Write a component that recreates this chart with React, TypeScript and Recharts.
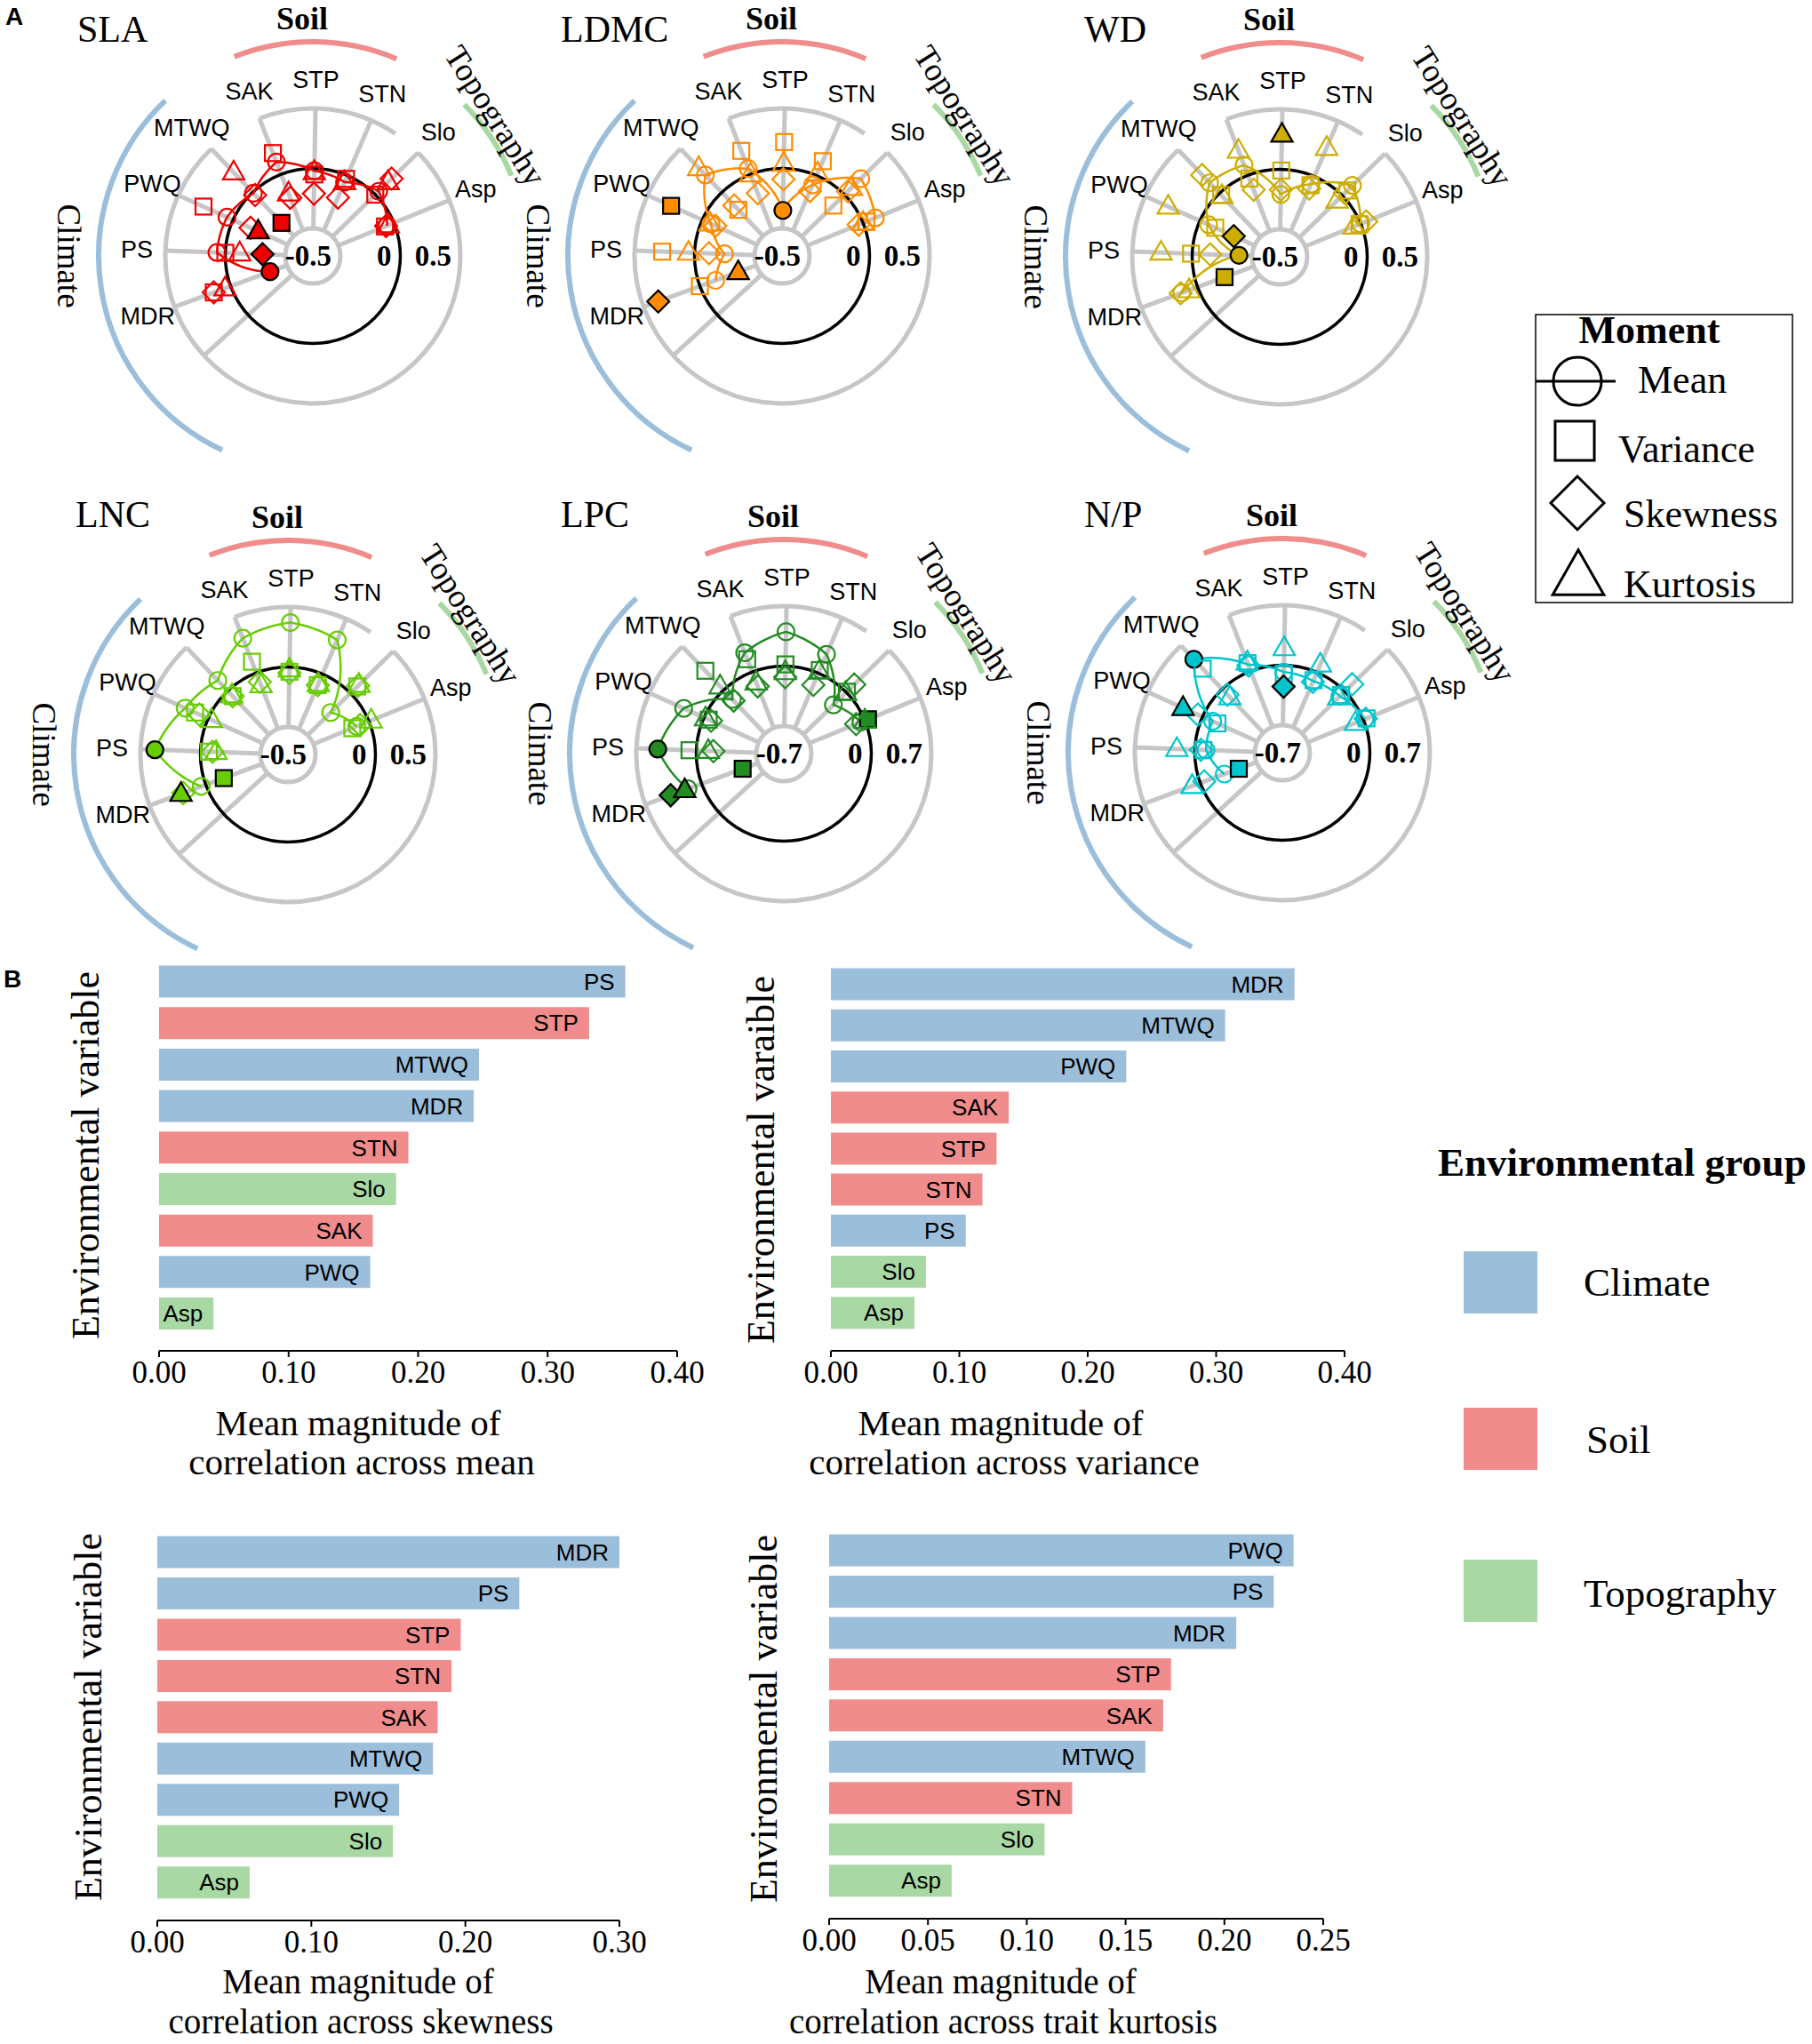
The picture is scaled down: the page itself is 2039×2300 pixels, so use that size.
import React from 'react'
import {
  RadarChart, Radar, PolarAngleAxis, PolarRadiusAxis,
  BarChart, Bar, XAxis, YAxis, Cell, LabelList,
} from 'recharts'

const SERIF = "'Liberation Serif', 'Times New Roman', Times, serif"
const SANS = "'Liberation Sans', Arial, Helvetica, sans-serif"

// environmental variables, in angular order (clockwise from lower left)
const VARS = ['MDR', 'PS', 'PWQ', 'MTWQ', 'SAK', 'STP', 'STN', 'Slo', 'Asp']
const CLIMATE = ['MDR', 'PS', 'PWQ', 'MTWQ']
const SOIL = ['SAK', 'STP', 'STN']

// correlations of each trait moment with the variables (MDR .. Asp)
const SLA_MEAN = [-0.35, 0.07, 0.055, -0.01, 0.11, -0.02, -0.06, 0.04, -0.06]
const SLA_VAR = [0.15, 0.0, 0.27, -0.35, 0.19, -0.05, -0.03, 0.0, -0.08]
const SLA_SKEW = [0.15, -0.31, -0.16, -0.03, -0.21, -0.21, -0.2, 0.19, -0.07]
const SLA_KURT = [0.05, -0.12, -0.23, 0.23, -0.17, -0.03, -0.06, 0.15, -0.05]
const SLA_SIG = ['MDR:mean', 'PS:skewness', 'PWQ:kurtosis', 'MTWQ:variance']

const LDMC_MEAN = [-0.14, -0.25, -0.08, 0.2, 0.05, -0.35, -0.085, 0.19, 0.11]
const LDMC_VAR = [0.0, 0.27, 0.285, -0.2, 0.21, 0.22, 0.13, -0.13, 0.03]
const LDMC_SKEW = [0.37, -0.12, -0.12, -0.15, -0.17, -0.09, -0.14, 0.04, -0.04]
const LDMC_KURT = [-0.34, 0.05, -0.07, 0.28, 0.0, 0.04, 0.02, 0.08, 0.0]
const LDMC_SIG = ['MDR:skewness', 'MDR:kurtosis', 'PWQ:variance', 'STP:mean']

const WD_MEAN = [0.14, -0.39, -0.08, 0.12, 0.09, -0.21, -0.07, 0.12, 0.0]
const WD_VAR = [-0.24, 0.01, -0.14, -0.02, -0.03, -0.01, -0.08, 0.06, -0.01]
const WD_SKEW = [0.15, -0.15, -0.31, 0.21, -0.13, -0.17, -0.11, 0.03, 0.05]
const WD_KURT = [0.075, 0.26, 0.29, -0.03, 0.22, 0.29, 0.26, -0.06, -0.06]
const WD_SIG = ['MDR:variance', 'PS:mean', 'PWQ:skewness', 'STP:kurtosis']

const LNC_MEAN = [0.04, 0.38, 0.21, 0.12, 0.31, 0.37, 0.31, -0.23, -0.11]
const LNC_VAR = [-0.16, -0.07, 0.12, -0.06, 0.1, -0.04, -0.1, 0.08, -0.15]
const LNC_SKEW = [0.2, -0.1, 0.08, -0.06, -0.08, -0.05, -0.1, 0.09, -0.08]
const LNC_KURT = [0.22, -0.13, -0.03, -0.05, -0.11, -0.02, -0.09, 0.1, 0.02]
const LNC_SIG = ['MDR:variance', 'MDR:kurtosis', 'PS:mean']

const LPC_MEAN = [0.17, 0.45, 0.26, -0.15, 0.24, 0.4, 0.24, -0.21, -0.05]
const LPC_VAR = [-0.51, 0.08, -0.06, 0.31, 0.16, 0.02, 0.04, 0.01, 0.04]
const LPC_SKEW = [0.385, -0.2, -0.09, -0.17, -0.18, -0.13, -0.15, 0.13, -0.11]
const LPC_KURT = [0.21, -0.14, -0.02, 0.06, -0.13, -0.07, 0.02, -0.01, 0.0]
const LPC_SIG = ['MDR:variance', 'MDR:skewness', 'MDR:kurtosis', 'PS:mean', 'Asp:variance']

const NP_MEAN = [-0.3, -0.13, -0.13, 0.48, 0.08, -0.08, -0.11, -0.08, 0.02]
const NP_VAR = [-0.48, -0.1, -0.19, 0.33, 0.1, -0.1, -0.1, -0.06, 0.04]
const NP_SKEW = [-0.05, -0.07, 0.06, -0.09, 0.07, -0.25, -0.12, 0.12, 0.03]
const NP_KURT = [0.1, 0.21, 0.25, -0.13, 0.11, 0.2, 0.1, -0.1, -0.1]
const NP_SIG = ['MDR:variance', 'PWQ:kurtosis', 'MTWQ:mean', 'STP:skewness']

// panel B: mean magnitude of correlation, sorted as drawn (top to bottom)
const MEAN_NAMES = ['PS', 'STP', 'MTWQ', 'MDR', 'STN', 'Slo', 'SAK', 'PWQ', 'Asp']
const MEAN_VALS = [0.36, 0.332, 0.247, 0.243, 0.1925, 0.183, 0.165, 0.163, 0.042]
const VAR_NAMES = ['MDR', 'MTWQ', 'PWQ', 'SAK', 'STP', 'STN', 'PS', 'Slo', 'Asp']
const VAR_VALS = [0.361, 0.307, 0.23, 0.1385, 0.129, 0.118, 0.105, 0.074, 0.065]
const SKEW_NAMES = ['MDR', 'PS', 'STP', 'STN', 'SAK', 'MTWQ', 'PWQ', 'Slo', 'Asp']
const SKEW_VALS = [0.3, 0.235, 0.197, 0.191, 0.182, 0.179, 0.157, 0.153, 0.06]
const KURT_NAMES = ['PWQ', 'PS', 'MDR', 'STP', 'SAK', 'MTWQ', 'STN', 'Slo', 'Asp']
const KURT_VALS = [0.235, 0.225, 0.206, 0.173, 0.169, 0.16, 0.123, 0.109, 0.062]

const TICKS_40 = [0, 0.1, 0.2, 0.3, 0.4]
const TICKS_30 = [0, 0.1, 0.2, 0.3]
const TICKS_25 = [0, 0.05, 0.1, 0.15, 0.2, 0.25]

const GROUP_FILL: Record<string, string> = { Climate: '#9BBEDB', Soil: '#F08C8C', Topography: '#A8D8A4' }
const groupOf = (v: string) => (CLIMATE.includes(v) ? 'Climate' : SOIL.includes(v) ? 'Soil' : 'Topography')

// polar geometry (px)
const SIZE = 640
const HALF = SIZE / 2
const INNER_R = 31
const OUTER_R = 166
const LABEL_R = 198
const START = 200.2
const STEP = 22.25
const END = START - 9 * STEP
const GRID = '#C6C6C6'
const RAD = Math.PI / 180

const MOMENTS = ['mean', 'variance', 'skewness', 'kurtosis'] as const
const SHAPE_OF: Record<string, string> = { mean: 'circle', variance: 'square', skewness: 'diamond', kurtosis: 'triangle' }

const PANELS = [
  { title: 'SLA', cx: 352, cy: 288, tx: 87, ty: 47, lim: 0.5, color: '#EE0000', m: [SLA_MEAN, SLA_VAR, SLA_SKEW, SLA_KURT], sig: SLA_SIG },
  { title: 'LDMC', cx: 880, cy: 288, tx: 631, ty: 47, lim: 0.5, color: '#FF8C00', m: [LDMC_MEAN, LDMC_VAR, LDMC_SKEW, LDMC_KURT], sig: LDMC_SIG },
  { title: 'WD', cx: 1440, cy: 289, tx: 1220, ty: 47, lim: 0.5, color: '#CDAD00', m: [WD_MEAN, WD_VAR, WD_SKEW, WD_KURT], sig: WD_SIG },
  { title: 'LNC', cx: 324, cy: 849, tx: 85, ty: 593, lim: 0.5, color: '#66CD00', m: [LNC_MEAN, LNC_VAR, LNC_SKEW, LNC_KURT], sig: LNC_SIG },
  { title: 'LPC', cx: 882, cy: 848, tx: 631, ty: 593, lim: 0.7, color: '#228B22', m: [LPC_MEAN, LPC_VAR, LPC_SKEW, LPC_KURT], sig: LPC_SIG },
  { title: 'N/P', cx: 1443, cy: 847, tx: 1220, ty: 593, lim: 0.7, color: '#00C5CD', m: [NP_MEAN, NP_VAR, NP_SKEW, NP_KURT], sig: NP_SIG },
]

const BARS = [
  { names: MEAN_NAMES, vals: MEAN_VALS, max: 0.4, ticks: TICKS_40, left: 120, top: 1060, w: 690, h: 520, m: { top: 21.4, right: 48, bottom: 0, left: 59 }, pad: 18.4 },
  { names: VAR_NAMES, vals: VAR_VALS, max: 0.4, ticks: TICKS_40, left: 875, top: 1060, w: 690, h: 520, m: { top: 24.5, right: 52, bottom: 0, left: 60 }, pad: 19.7 },
  { names: SKEW_NAMES, vals: SKEW_VALS, max: 0.3, ticks: TICKS_30, left: 120, top: 1700, w: 630, h: 521, m: { top: 23.4, right: 53, bottom: 0, left: 57 }, pad: 19.5 },
  { names: KURT_NAMES, vals: KURT_VALS, max: 0.25, ticks: TICKS_25, left: 875, top: 1700, w: 670, h: 519, m: { top: 21.4, right: 56, bottom: 0, left: 58 }, pad: 19.5 },
]

const polar = (cx: number, cy: number, r: number, a: number) => ({ x: cx + r * Math.cos(a * RAD), y: cy - r * Math.sin(a * RAD) })
const arc = (cx: number, cy: number, r: number, a0: number, a1: number) => {
  const p0 = polar(cx, cy, r, a0)
  const p1 = polar(cx, cy, r, a1)
  return `M${p0.x},${p0.y} A${r},${r} 0 ${a1 - a0 > 180 ? 1 : 0} 0 ${p1.x},${p1.y}`
}

function Marker({ kind, x, y, color, sig, s = 1, sw = 2.2 }: any) {
  const stroke = sig ? '#000' : color
  const fill = sig ? color : 'none'
  const common = { stroke, fill, strokeWidth: sw }
  if (kind === 'circle') return <circle cx={x} cy={y} r={9.5 * s} {...common} />
  if (kind === 'square') return <rect x={x - 9 * s} y={y - 9 * s} width={18 * s} height={18 * s} {...common} />
  if (kind === 'diamond') {
    const h = 12.5 * s
    return <polygon points={`${x},${y - h} ${x + h},${y} ${x},${y + h} ${x - h},${y}`} {...common} />
  }
  const a = 12 * s
  return <polygon points={`${x},${y - 13 * s} ${x + a},${y + 8 * s} ${x - a},${y + 8 * s}`} {...common} />
}

function PanelDecor({ cx, cy, title, tx, ty }: any) {
  const spokes = []
  for (let i = -1; i < 9; i++) {
    const a = START - i * STEP
    const p0 = polar(cx, cy, INNER_R, a)
    const p1 = polar(cx, cy, OUTER_R, a)
    spokes.push(<line key={i} x1={p0.x} y1={p0.y} x2={p1.x} y2={p1.y} stroke={GRID} strokeWidth={5} />)
  }
  const topo = polar(cx, cy, 259, 37.5)
  return (
    <g>
      <text x={tx} y={ty} fontFamily={SERIF} fontSize={42} fill="#000">{title}</text>
      <path d={arc(cx, cy, 241, 133.5, 245)} stroke="#9BBEDB" strokeWidth={6} fill="none" />
      <path d={arc(cx, cy, 241, 67, 111.5)} stroke="#F08C8C" strokeWidth={6} fill="none" />
      <path d={arc(cx, cy, 241, 22, 45)} stroke="#A8D8A4" strokeWidth={6} fill="none" />
      <text x={cx - 12} y={cy - 267} textAnchor="middle" dominantBaseline="central" fontFamily={SERIF} fontWeight="bold" fontSize={36}>Soil</text>
      <text x={topo.x} y={topo.y} textAnchor="middle" dominantBaseline="central" fontFamily={SERIF} fontSize={37}
        transform={`rotate(57.5 ${topo.x} ${topo.y})`}>Topography</text>
      <text x={cx - 275} y={cy} textAnchor="middle" dominantBaseline="central" fontFamily={SERIF} fontSize={37}
        transform={`rotate(90 ${cx - 275} ${cy})`}>Climate</text>
      {spokes}
      <circle cx={cx} cy={cy} r={INNER_R} stroke={GRID} strokeWidth={5} fill="none" />
      <path d={arc(cx, cy, OUTER_R, 56, START - 4 * STEP)} stroke={GRID} strokeWidth={5} fill="none" />
      <path d={arc(cx, cy, OUTER_R, START - 3 * STEP, START - 7 * STEP + 360)} stroke={GRID} strokeWidth={5} fill="none" />
      <circle cx={cx} cy={cy} r={(INNER_R + OUTER_R) / 2} stroke="#000" strokeWidth={3.5} fill="none" />
    </g>
  )
}

const angleTick = (props: any) => {
  const { x, y, payload, index } = props
  return (
    <text key={`at-${index}`} x={x} y={y} textAnchor="middle" dominantBaseline="central" fontFamily={SANS} fontSize={27} fill="#000">
      {payload.value}
    </text>
  )
}

const makeRadiusTick = (lim: number) => (props: any) => {
  const { x, y, payload, index } = props
  const v = payload.value
  const show = Math.abs(v) < 1e-9 || Math.abs(Math.abs(v) - lim) < 1e-6
  if (!show) return <g key={`rt-${index}`} />
  const label = Math.abs(v) < 1e-9 ? '0' : String(Math.round(v * 10) / 10)
  return (
    <text key={`rt-${index}`} x={x - 10} y={y} dy="0.34em" textAnchor="end" fontFamily={SERIF} fontWeight="bold" fontSize={33} fill="#000">
      {label}
    </text>
  )
}

const makeDot = (moment: string, color: string, sig: string[]) => (props: any) => {
  const { cx, cy, index, payload } = props
  const row = payload && payload.payload ? payload.payload : payload
  if (!row || !Number.isFinite(cx) || !Number.isFinite(cy)) return <g key={`d-${moment}-${index}`} />
  return <Marker key={`d-${moment}-${index}`} kind={SHAPE_OF[moment]} x={cx} y={cy} color={color}
    sig={sig.includes(`${row.name}:${moment}`)} />
}

// geom_line in polar coordinates: interpolate angle and radius between points
const makeMeanPath = (color: string) => (props: any) => {
  const pts = (props.points || []).filter((p: any) => Number.isFinite(p.x) && Number.isFinite(p.y))
  if (pts.length < 2) return <g />
  let d = ''
  for (let k = 0; k < pts.length - 1; k++) {
    const p = pts[k]
    const q = pts[k + 1]
    const ccx = p.x - Math.cos(-p.angle * RAD) * p.radius
    const ccy = p.y - Math.sin(-p.angle * RAD) * p.radius
    for (let t = 0; t <= 16; t++) {
      if (k > 0 && t === 0) continue
      const a = p.angle + ((q.angle - p.angle) * t) / 16
      const r = p.radius + ((q.radius - p.radius) * t) / 16
      const x = ccx + Math.cos(-a * RAD) * r
      const y = ccy + Math.sin(-a * RAD) * r
      d += `${d ? 'L' : 'M'}${x.toFixed(2)},${y.toFixed(2)}`
    }
  }
  return <path d={d} fill="none" stroke={color} strokeWidth={2.5} />
}

function RadarPanel({ p }: any) {
  const data = VARS.map((name, i) => ({
    name, mean: p.m[0][i], variance: p.m[1][i], skewness: p.m[2][i], kurtosis: p.m[3][i],
  }))
  return (
    <div style={{ position: 'absolute', left: p.cx - HALF, top: p.cy - HALF, width: SIZE, height: SIZE }}>
      <RadarChart width={SIZE} height={SIZE} data={data} cx="50%" cy="50%" margin={{ top: 0, right: 0, bottom: 0, left: 0 }}
        innerRadius={INNER_R} outerRadius={OUTER_R} startAngle={START} endAngle={END}>
        <PolarAngleAxis dataKey="name" type="category" axisLine={false} tickLine={false}
          tickSize={LABEL_R - OUTER_R} tick={angleTick} />
        <PolarRadiusAxis type="number" angle={0} domain={[-p.lim, p.lim]} ticks={[-p.lim, 0, p.lim]} tickCount={3}
          allowDecimals allowDataOverflow axisLine={false} tick={makeRadiusTick(p.lim)} />
        {MOMENTS.map((mo) => (
          <Radar key={mo} dataKey={mo} isAnimationActive={false} fill="none" fillOpacity={0}
            stroke={mo === 'mean' ? p.color : 'none'}
            shape={mo === 'mean' ? makeMeanPath(p.color) : () => <g />}
            dot={makeDot(mo, p.color, p.sig)} />
        ))}
      </RadarChart>
    </div>
  )
}

function BarPanel({ b }: any) {
  const data = b.names.map((name: string, i: number) => ({ name, value: b.vals[i], group: groupOf(name) }))
  return (
    <div style={{ position: 'absolute', left: b.left, top: b.top }}>
      <BarChart layout="vertical" width={b.w} height={b.h} data={data} margin={b.m} barCategoryGap="11%">
        <XAxis type="number" domain={[0, b.max]} ticks={b.ticks} allowDataOverflow interval={0}
          tickFormatter={(v: number) => v.toFixed(2)} height={60} tickSize={7} tickMargin={4}
          axisLine={{ stroke: '#000', strokeWidth: 2 }} tickLine={{ stroke: '#000', strokeWidth: 2 }}
          tick={{ fontFamily: SERIF, fontSize: 35, fill: '#000' }} />
        <YAxis type="category" dataKey="name" hide width={0} padding={{ top: 0, bottom: b.pad }} />
        <Bar dataKey="value" isAnimationActive={false}>
          {data.map((d: any) => <Cell key={d.name} fill={GROUP_FILL[d.group]} />)}
          <LabelList dataKey="name" position="insideRight" offset={12} fill="#000" fontFamily={SANS} fontSize={26} />
        </Bar>
      </BarChart>
    </div>
  )
}

const BAR_TITLES = [
  { x: 96, y: 1300, yl: 'Environmental variable', x1: 403, x2: 407, b1: 1615, b2: 1659, fs: 41, l2: 'correlation across mean' },
  { x: 856, y: 1305, yl: 'Environmental varaible', x1: 1126, x2: 1130, b1: 1615, b2: 1659, fs: 41, l2: 'correlation across variance' },
  { x: 99, y: 1932, yl: 'Environmental variable', x1: 403, x2: 406, b1: 2243, b2: 2288, fs: 39, l2: 'correlation across skewness' },
  { x: 859, y: 1934, yl: 'Environmental variable', x1: 1126, x2: 1129, b1: 2243, b2: 2288, fs: 39, l2: 'correlation across trait kurtosis' },
]

export default function App() {
  return (
    <div style={{ position: 'absolute', left: 0, top: 0, width: 2039, height: 2300, background: '#fff', overflow: 'hidden' }}>
      <svg width={2039} height={2300} style={{ position: 'absolute', left: 0, top: 0 }}>
        <text x={6} y={28} fontFamily={SANS} fontWeight="bold" fontSize={28}>A</text>
        <text x={4} y={1111} fontFamily={SANS} fontWeight="bold" fontSize={28}>B</text>
        {PANELS.map((p) => <PanelDecor key={p.title} {...p} />)}

        {/* Moment legend */}
        <rect x={1728} y={354} width={289} height={324} fill="none" stroke="#000" strokeWidth={1.5} />
        <text x={1856} y={386} textAnchor="middle" fontFamily={SERIF} fontWeight="bold" fontSize={44}>Moment</text>
        <line x1={1728} x2={1818} y1={429} y2={429} stroke="#000" strokeWidth={3} />
        <Marker kind="circle" x={1775} y={429} color="#000" s={2.85} sw={3} />
        <text x={1843} y={442} fontFamily={SERIF} fontSize={44}>Mean</text>
        <Marker kind="square" x={1772} y={496} color="#000" s={2.45} sw={3} />
        <text x={1821} y={520} fontFamily={SERIF} fontSize={44}>Variance</text>
        <Marker kind="diamond" x={1775} y={566} color="#000" s={2.4} sw={3} />
        <text x={1827} y={593} fontFamily={SERIF} fontSize={44}>Skewness</text>
        <Marker kind="triangle" x={1776} y={650} color="#000" s={2.4} sw={3} />
        <text x={1827} y={672} fontFamily={SERIF} fontSize={44}>Kurtosis</text>

        {/* Environmental group legend */}
        <text x={1618} y={1323} fontFamily={SERIF} fontWeight="bold" fontSize={45}>Environmental group</text>
        <rect x={1647} y={1408} width={83} height={70} fill={GROUP_FILL.Climate} />
        <text x={1782} y={1458} fontFamily={SERIF} fontSize={45}>Climate</text>
        <rect x={1647} y={1584} width={83} height={70} fill={GROUP_FILL.Soil} />
        <text x={1785} y={1635} fontFamily={SERIF} fontSize={45}>Soil</text>
        <rect x={1647} y={1755} width={83} height={70} fill={GROUP_FILL.Topography} />
        <text x={1782} y={1808} fontFamily={SERIF} fontSize={45}>Topography</text>

        {BAR_TITLES.map((t, i) => (
          <g key={i} fontFamily={SERIF} fill="#000">
            <text x={t.x} y={t.y} fontSize={44} textAnchor="middle" dominantBaseline="central"
              transform={`rotate(-90 ${t.x} ${t.y})`}>{t.yl}</text>
            <text x={t.x1} y={t.b1} fontSize={t.fs} textAnchor="middle">Mean magnitude of</text>
            <text x={t.x2} y={t.b2} fontSize={t.fs} textAnchor="middle">{t.l2}</text>
          </g>
        ))}
      </svg>
      {PANELS.map((p) => <RadarPanel key={p.title} p={p} />)}
      {BARS.map((b, i) => <BarPanel key={i} b={b} />)}
    </div>
  )
}
